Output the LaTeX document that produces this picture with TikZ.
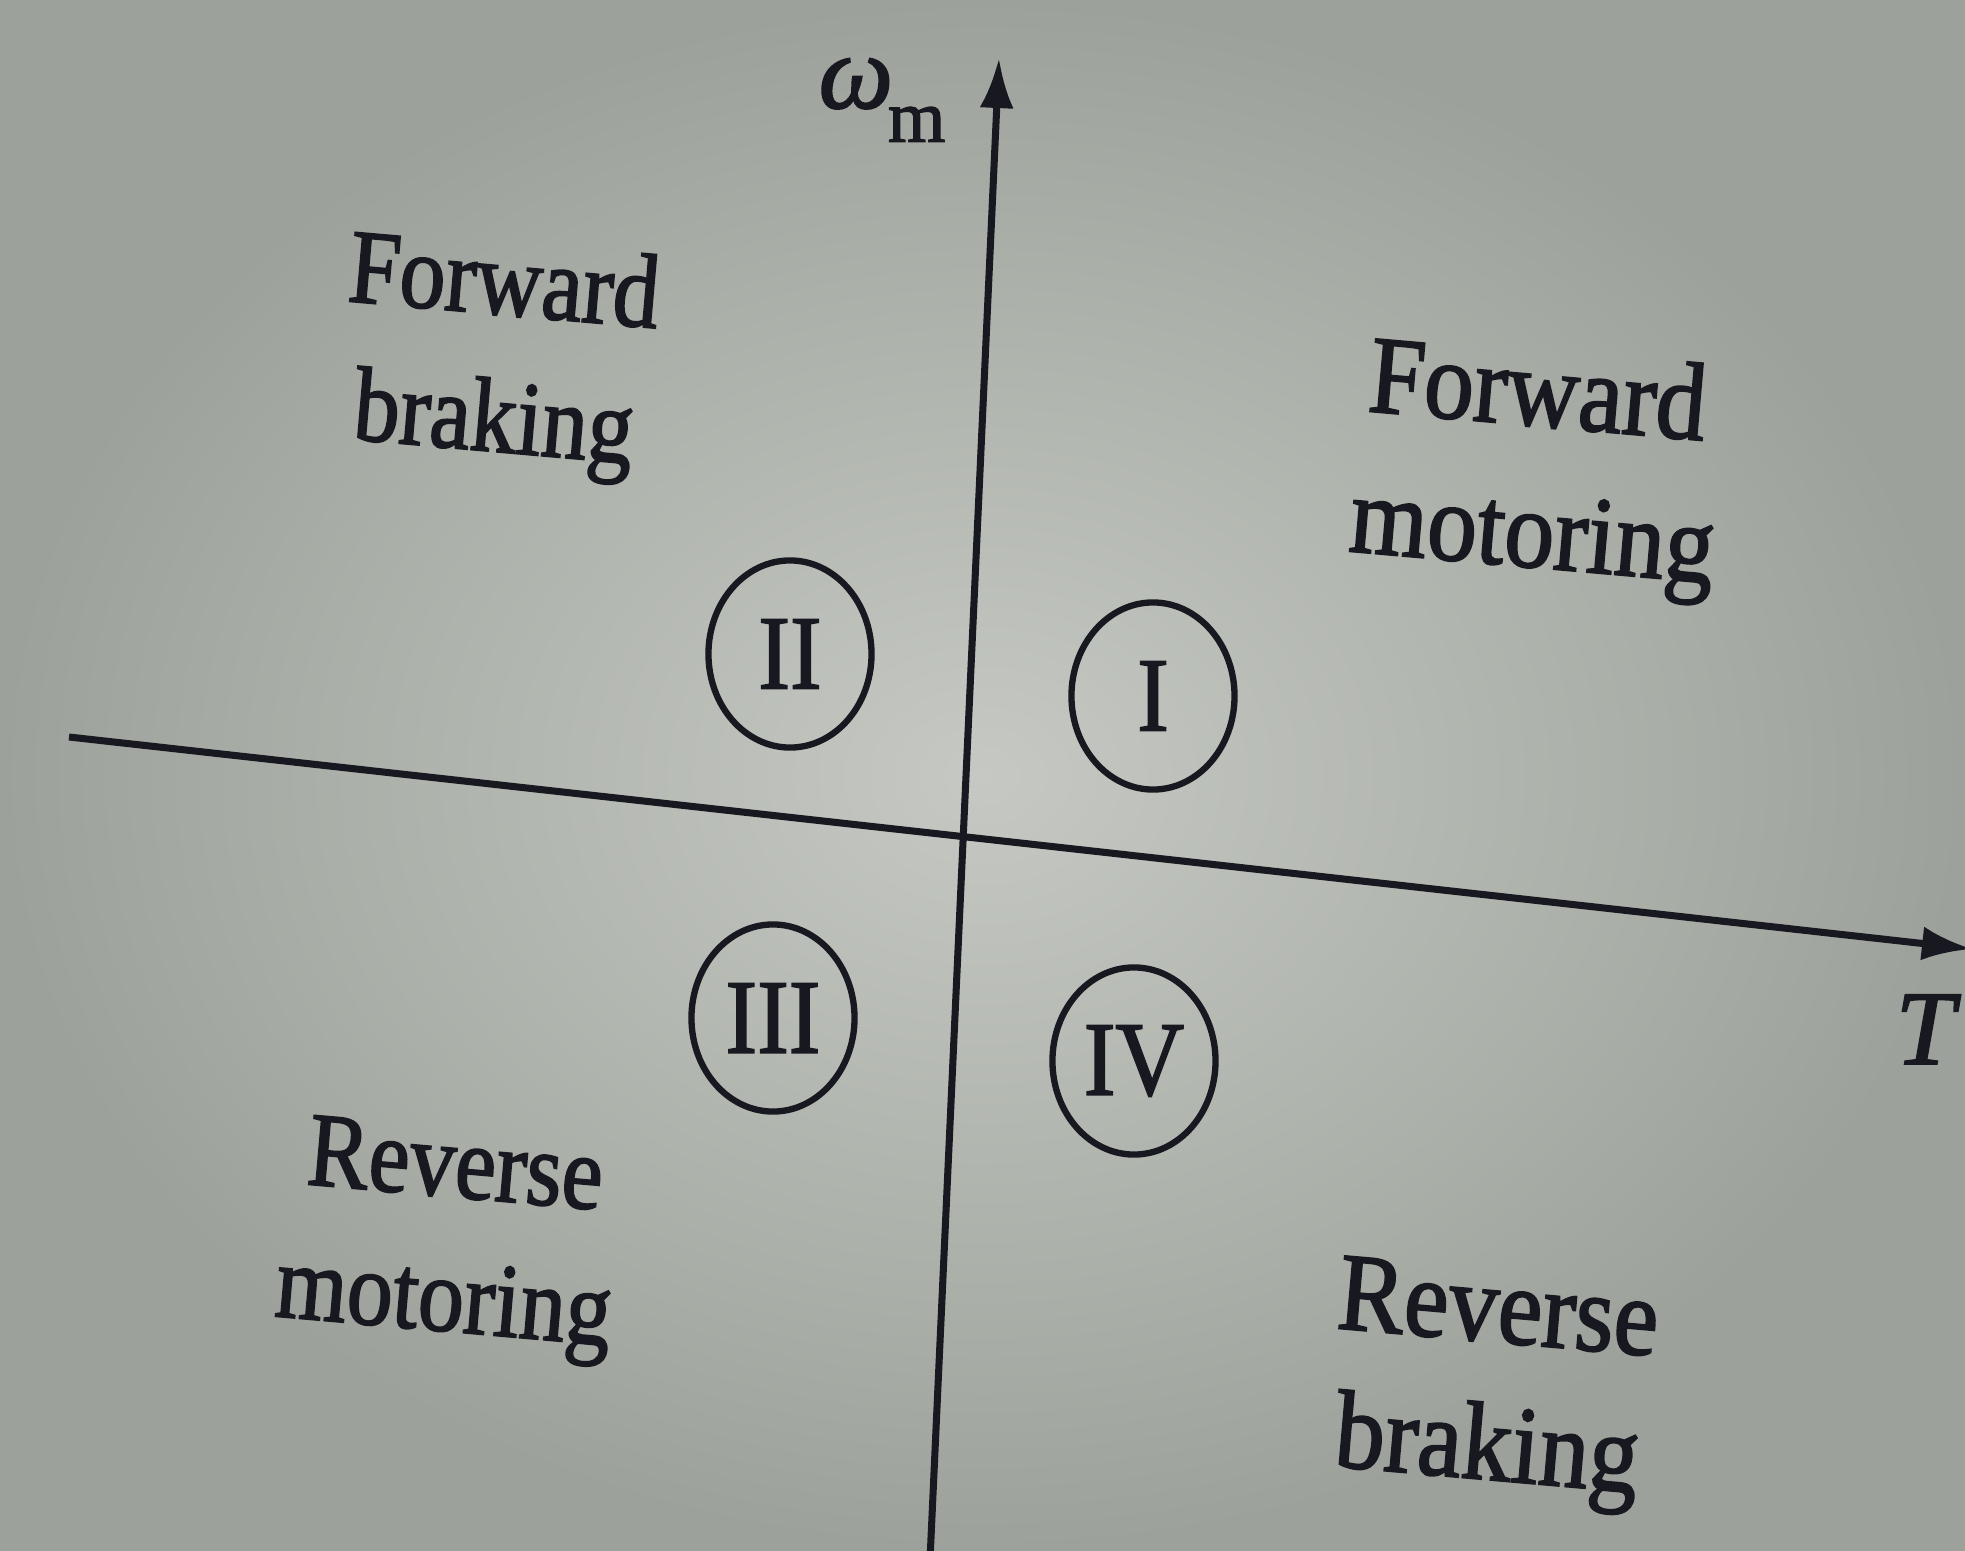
\documentclass[tikz,border=0pt]{standalone}
\usepackage{fontspec}
\setmainfont{Liberation Serif}
\newfontfamily\lblfont[FakeBold=1.8]{Liberation Serif}
\usetikzlibrary{arrows.meta,shapes.geometric}
\definecolor{bgin}{RGB}{198,201,195}
\definecolor{bgout}{RGB}{156,162,155}
\definecolor{ink}{RGB}{24,24,32}
\begin{document}
\begin{tikzpicture}[x=0.01cm,y=-0.01cm,
  lblbase/.style={text=ink,anchor=base west,inner sep=0pt,rotate=-5},
  lbl/.style={lblbase,font=\lblfont\fontsize{30}{36}\selectfont,xscale=0.87},
  lblr/.style={lblbase,font=\lblfont\fontsize{31.5}{36}\selectfont,xscale=0.9},
  quad/.style={draw=ink,line width=1.8pt,ellipse,minimum width=1.63cm,minimum height=1.87cm,inner sep=0pt,text=ink,font=\lblfont\fontsize{30}{32}\selectfont},
  axis/.style={draw=ink,line width=2pt,-{Latex[length=0.5cm,width=0.34cm]}}]
\useasboundingbox (0,0) rectangle (1965,1551);
\shade[inner color=bgin,outer color=bgout] (0,0) rectangle (1965,1551);
\clip (0,0) rectangle (1965,1551);
% axes
\coordinate (vbot) at (930,1560);
\coordinate (vtop) at (999,58);
\coordinate (hleft) at (69,737);
\coordinate (hright) at (1972,949);
\draw[axis] (vbot) -- (vtop);
\draw[axis] (hleft) -- (hright);
% axis labels
\node[text=ink,inner sep=0pt,anchor=base west] (wm) at (818,108)
  {\lblfont\fontsize{30}{36}\selectfont\itshape ω\kern-0.05em\raisebox{-0.32em}{\fontsize{21}{24}\selectfont\upshape m}};
\node[text=ink,inner sep=0pt,anchor=base west,font=\lblfont\fontsize{30}{36}\selectfont\itshape] (T) at (1895,1064) {T};
% quadrant circles
\node[quad] (q1) at (1153,696) {\scalebox{0.9}[1]{I}};
\node[quad] (q2) at (790,654) {\scalebox{0.9}[1]{II}};
\node[quad] (q3) at (773,1018) {\scalebox{0.9}[1]{III}};
\node[quad] (q4) at (1134,1061) {\scalebox{0.9}[1]{IV}};
% quadrant labels
\node[lbl] (fb1) at (346,301) {Forward};
\node[lbl] (fb2) at (351,439) {braking};
\node[lblr] (fm1) at (1366,411) {Forward};
\node[lblr] (fm2) at (1347,551) {motoring};
\node[lbl] (rm1) at (305,1184) {Reverse};
\node[lbl] (rm2) at (273,1316) {motoring};
\node[lblr] (rb1) at (1335,1328) {Reverse};
\node[lblr] (rb2) at (1332,1466) {braking};
\end{tikzpicture}
\end{document}
